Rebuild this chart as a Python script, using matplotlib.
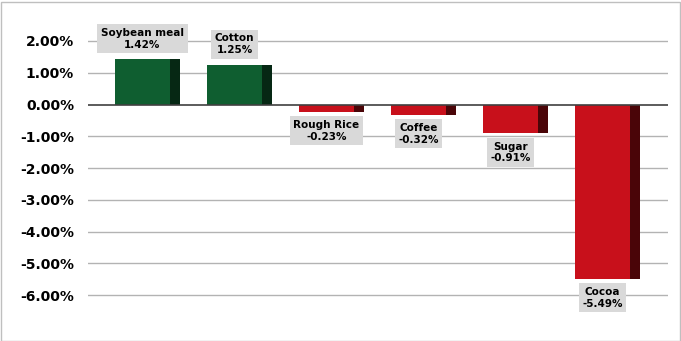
import matplotlib
matplotlib.use("Agg")
import matplotlib.pyplot as plt
from matplotlib.patches import Rectangle

categories = ["Soybean meal", "Cotton", "Rough Rice", "Coffee", "Sugar", "Cocoa"]
values = [1.42, 1.25, -0.23, -0.32, -0.91, -5.49]
yticks = [2, 1, 0, -1, -2, -3, -4, -5, -6]

fig = plt.figure(figsize=(6.81, 3.41), dpi=100)
ppu = 31.75
top_px = 41 - 0.05 * ppu
h_px = 8.1 * ppu
ax = fig.add_axes([88/681, 1 - (top_px + h_px)/341, 580/681, h_px/341])
ax.set_ylim(-6.05, 2.05)
ax.set_xlim(-0.647, 5.658)

for t in yticks:
    if t != 0:
        ax.axhline(t, color="#b3b3b3", lw=1, zorder=0)

face_w = 0.60
side_w = 0.11
for i, v in enumerate(values):
    pos = v >= 0
    face = "#0f5e30" if pos else "#c8101b"
    side = "#062814" if pos else "#4a0508"
    left = i - (face_w + side_w) / 2
    ax.bar(left, v, width=face_w, align="edge", color=face, zorder=2)
    ax.bar(left + face_w, v, width=side_w, align="edge", color=side, zorder=2)
    cx = left + face_w / 2
    txt = f"{categories[i]}\n{v:.2f}%"
    box = dict(boxstyle="square,pad=0.35", fc="#d9d9d9", ec="none")
    if pos:
        ax.annotate(txt, (cx, v), xytext=(0, 7), textcoords="offset points",
                    ha="center", va="bottom", fontsize=7.5, fontweight="bold",
                    linespacing=1.2, annotation_clip=False, bbox=box, zorder=4)
    else:
        ax.annotate(txt, (cx, v), xytext=(0, -6), textcoords="offset points",
                    ha="center", va="top", fontsize=7.5, fontweight="bold",
                    linespacing=1.2, annotation_clip=False, bbox=box, zorder=4)

ax.axhline(0, color="#404040", lw=1.2, zorder=3)

ax.set_yticks(yticks)
ax.set_yticklabels([f"{t:.2f}%" for t in yticks], fontsize=10, fontweight="bold")
ax.tick_params(axis="y", length=0, pad=10)
ax.set_xticks([])
for s in ax.spines.values():
    s.set_visible(False)

fig.patches.append(Rectangle((0.5/681, 0.5/341), 679/681, 339/341, transform=fig.transFigure,
                             fill=False, ec="#bfbfbf", lw=1))
fig.savefig("out.png", dpi=100)
